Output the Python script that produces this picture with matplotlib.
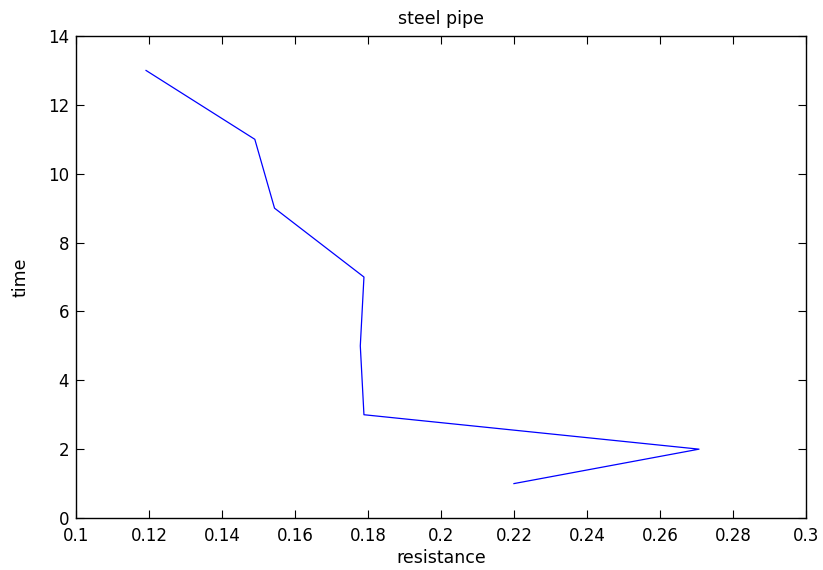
import matplotlib
matplotlib.use('Agg')
import matplotlib.pyplot as plt

plt.rcParams['font.family'] = ['DejaVu Sans']

# resistance readings against time
resistance = [0.220, 0.2707, 0.1789, 0.1779, 0.1789, 0.1544, 0.1490, 0.1192]
time = [1, 2, 3, 5, 7, 9, 11, 13]

fig = plt.figure(figsize=(8.23, 5.70), dpi=100)
ax = fig.add_axes([0.0923, 0.0912, 0.8870, 0.8456])

ax.plot(resistance, time, color='#0000ff', linewidth=0.9)

ax.set_xlim(0.1, 0.3)
ax.set_ylim(0, 14)
ax.set_xticks([0.1, 0.12, 0.14, 0.16, 0.18, 0.2, 0.22, 0.24, 0.26, 0.28, 0.3])
ax.set_xticklabels(['0.1', '0.12', '0.14', '0.16', '0.18', '0.2', '0.22', '0.24', '0.26', '0.28', '0.3'])
ax.set_yticks(range(0, 15, 2))

ax.tick_params(direction='in', top=True, right=True, length=6, width=0.8,
               labelsize=12, colors='black')
ax.tick_params(axis='x', pad=6.5)
ax.tick_params(axis='y', pad=5)
for s in ax.spines.values():
    s.set_linewidth(1.0)

ax.set_title('steel pipe', fontsize=12.5, pad=9)
ax.set_xlabel('resistance', fontsize=12.5, labelpad=3)
ax.set_ylabel('time', fontsize=12.5, labelpad=13)

fig.savefig('out.png', dpi=100)
